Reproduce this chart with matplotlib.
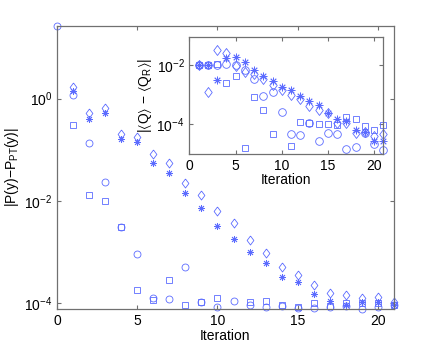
import numpy as np
import matplotlib
matplotlib.use("Agg")
import matplotlib.pyplot as plt
from matplotlib.ticker import FixedLocator, NullLocator, LogFormatterMathtext

plt.rcParams["font.family"] = ["Liberation Sans", "DejaVu Sans"]
plt.rcParams["mathtext.default"] = "regular"
plt.rcParams["font.size"] = 10

# main panel: log10 |P(y) - P_PT(y)| per iteration (0..21)
it_main = np.arange(22)
main_circle = [1.42, 0.06, -0.87, -1.63, -2.50, -3.03, -3.90, -3.92, -3.28, -3.98, -4.06,
               -3.95, -4.03, -4.07, -4.04, -4.08, -4.09, -4.06, -4.04, -4.11, -4.06, -4.02]
main_square = [np.nan, -0.51, -1.89, -2.00, -2.50, -3.74, -3.93, -3.55, -4.02, -3.98, -3.90,
               np.nan, -3.98, -3.95, -4.03, -4.06, -4.00, -4.04, -4.00, -4.00, -4.00, -4.02]
main_diamond = [np.nan, 0.22, -0.29, -0.19, -0.70, -0.76, -1.09, -1.26, -1.64, -1.88, -2.19,
                -2.43, -2.77, -3.02, -3.28, -3.45, -3.63, -3.79, -3.83, -3.90, -3.88, -3.98]
main_star = [np.nan, 0.14, -0.40, -0.29, -0.79, -0.85, -1.26, -1.46, -1.85, -2.14, -2.48,
             -2.75, -2.99, -3.21, -3.48, -3.59, -3.81, -3.95, -4.02, -3.98, -3.98, -4.02]

# inset: log10 |<Q> - <Q_R>| per iteration (1..21)
it_ins = np.arange(1, 22)
ins_circle = [-2.0, -2.0, -2.0, -1.94, -1.98, -2.17, -2.45, -3.05, -2.91, -3.59,
              -4.34, -4.37, -3.97, -4.56, -4.31, -4.34, -4.84, -4.76, -4.30, -4.67, -4.87]
ins_square = [-2.0, -2.0, -1.96, -2.59, -2.37, -4.81, -3.08, -3.53, -4.34, np.nan,
              -4.73, -3.92, -3.97, -4.00, -3.98, -4.03, -3.74, -3.81, -4.06, -4.19, -4.03]
ins_diamond = [-2.0, -2.90, -1.49, -1.58, -2.01, -2.22, -2.29, -2.46, -2.67, -2.85,
               -2.99, -3.13, -3.38, -3.53, -3.63, -3.94, -3.94, -4.31, -4.26, -4.39, -4.34]
ins_star = [-2.0, -2.0, -2.51, -1.75, -1.72, -1.90, -2.15, -2.35, -2.52, -2.74,
            -2.84, -3.05, -3.21, -3.36, -3.61, -3.83, -3.89, -4.20, -4.26, -4.56, -4.56]

COLOR = "#5b6bff"
SPINE = "#707070"
STAR = (8, 2, 0)
DIAMOND = [(0, 1), (0.75, 0), (0, -1), (-0.75, 0), (0, 1)]


def draw(ax, x, series, ms):
    for vals, mk, scale in series:
        ax.plot(x, 10.0 ** np.asarray(vals, dtype=float), linestyle="none",
                marker=mk, ms=ms * scale, mfc="none", mec=COLOR, mew=0.6,
                clip_on=False)


def style(ax, yticks):
    ax.set_yscale("log")
    ax.set_xlim(0, 21)
    ax.set_xticks([0, 5, 10, 15, 20])
    ax.yaxis.set_major_locator(FixedLocator(yticks))
    ax.yaxis.set_major_formatter(LogFormatterMathtext())
    ax.yaxis.set_minor_locator(NullLocator())
    ax.tick_params(direction="in", top=True, right=True, length=3,
                   color=SPINE, width=0.8, labelsize=10)
    for s in ax.spines.values():
        s.set_color(SPINE)
        s.set_linewidth(0.9)


fig = plt.figure(figsize=(4.36, 3.49), dpi=100)
ax = fig.add_axes([0.1307, 0.1146, 0.773, 0.8114])
draw(ax, it_main, [(main_circle, "o", 1.0), (main_square, "s", 0.9),
                   (main_diamond, DIAMOND, 1.3), (main_star, STAR, 1.0)], 5)
style(ax, [1e-4, 1e-2, 1e0])
ax.set_ylim(7.8e-5, 26.3)
ax.set_xlabel("Iteration", labelpad=1)
ax.set_ylabel("|P(y)−P$_{PT}$(y)|", labelpad=2)

axi = fig.add_axes([0.4346, 0.5596, 0.4444, 0.3334])
draw(axi, it_ins, [(ins_circle, "o", 1.0), (ins_square, "s", 0.9),
                   (ins_diamond, DIAMOND, 1.3), (ins_star, STAR, 1.0)], 5.5)
style(axi, [1e-4, 1e-2])
axi.set_ylim(1e-5, 0.09)
axi.set_xlabel("Iteration", labelpad=0)
axi.set_ylabel(r"|$\langle$Q$\rangle$ − $\langle$Q$_R\rangle$|", labelpad=2)

fig.savefig("out.png", dpi=100)
